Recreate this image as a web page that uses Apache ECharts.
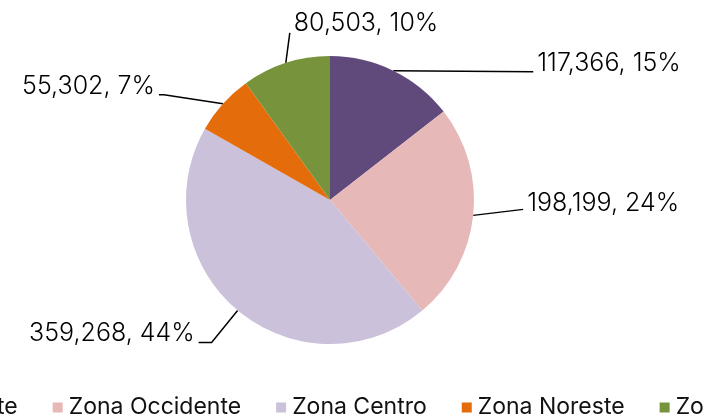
<!DOCTYPE html>
<html><head><meta charset="utf-8">
<script src="https://cdn.jsdelivr.net/npm/echarts@6/dist/echarts.min.js"></script>
<style>html,body{margin:0;padding:0;background:#fff}#c{width:705px;height:419px}</style>
</head><body><div id="c"></div>
<script>
const categories = ['Zona Noroeste', 'Zona Occidente', 'Zona Centro', 'Zona Noreste', 'Zona Sureste'];
const values = [117366, 198199, 359268, 55302, 80503];
const colors = ['#604A7B', '#E6B9B8', '#CCC1DA', '#E46C0A', '#77933C'];

// leader-line shape per slice, as offsets from the slice edge point:
// [bend dx, bend dy, end dx, end dy]
const leader = [
  [140, 1, 140, 1],
  [50, -6, 50, -6],
  [-26, 32, -39, 32],
  [-59, -9, -64, -9],
  [4, -30, 4, -30]
];
const labelLift = [8, 6, 9, 8, 9];

const fmt = v => v.toLocaleString('en-US');
const chart = echarts.init(document.getElementById('c'), null, {renderer: 'canvas'});
chart.setOption({
  animation: false,
  color: colors,
  legend: {
    orient: 'horizontal',
    left: -164,
    top: 391,
    width: 1400,
    itemWidth: 10,
    itemHeight: 10,
    itemGap: 35,
    icon: 'rect',
    textStyle: {fontFamily: 'Inter', fontSize: 23, color: '#111', padding: [0, 0, 0, 1]},
    data: categories
  },
  series: [{
    type: 'pie',
    center: [330, 200],
    radius: 144,
    startAngle: 90,
    clockwise: true,
    percentPrecision: 0,
    data: categories.map((n, i) => ({name: n, value: values[i]})),
    label: {
      show: true,
      position: 'outside',
      formatter: p => fmt(p.value) + ', ' + p.percent + '%',
      fontFamily: 'Inter',
      fontWeight: 300,
      fontSize: 25,
      color: '#000'
    },
    labelLine: {show: true, length: 10, length2: 20, lineStyle: {color: '#000', width: 1.5}},
    labelLayout: function (p) {
      if (!p.labelLinePoints) return;
      const i = p.dataIndex;
      const s = p.labelLinePoints[0];
      const L = leader[i];
      const b = [s[0] + L[0], s[1] + L[1]];
      const e = [s[0] + L[2], s[1] + L[3]];
      const right = i === 4 ? true : e[0] >= s[0];
      return {
        x: e[0] + (right ? 4 : -4),
        y: e[1] - labelLift[i],
        align: right ? 'left' : 'right',
        verticalAlign: 'middle',
        labelLinePoints: [s, b, e]
      };
    },
    itemStyle: {borderWidth: 0}
  }]
});
</script></body></html>
